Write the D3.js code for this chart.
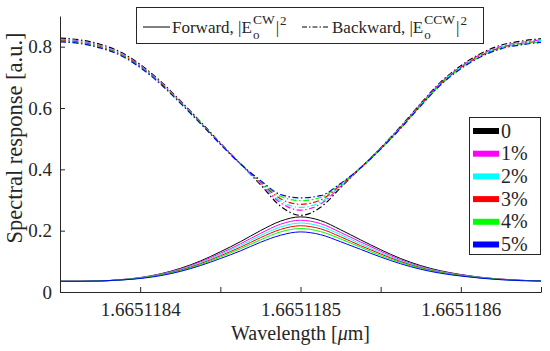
<!DOCTYPE html>
<html>
<head>
<meta charset="utf-8">
<script src="https://cdn.jsdelivr.net/npm/d3@7"></script>
<style>
  body { margin: 0; background: #fff; }
  text { font-family: "Liberation Serif", serif; fill: #262626; }
</style>
</head>
<body>
<div id="chart"></div>
<script>
// Wavelength samples [um]
var wavelength = [1.66511835, 1.6651183625, 1.665118375, 1.6651183875, 1.6651184,
  1.6651184125, 1.665118425, 1.6651184375, 1.66511845, 1.6651184625, 1.665118475,
  1.6651184875, 1.6651185, 1.6651185125, 1.665118525, 1.6651185375, 1.66511855,
  1.6651185625, 1.665118575, 1.6651185875, 1.6651186, 1.6651186125, 1.665118625,
  1.6651186375, 1.66511865];

// Forward |Eo_CW|^2, one array per perturbation
var fwd0 = [0.035,0.035,0.036,0.040,0.047,0.059,0.077,0.101,0.131,0.164,0.200,0.231,0.245,0.233,0.203,0.170,0.138,0.109,0.086,0.069,0.057,0.048,0.042,0.038,0.036];
var fwd1 = [0.035,0.035,0.036,0.040,0.046,0.058,0.075,0.098,0.126,0.157,0.191,0.221,0.234,0.223,0.194,0.163,0.133,0.105,0.083,0.067,0.056,0.047,0.042,0.038,0.036];
var fwd2 = [0.035,0.035,0.036,0.040,0.046,0.057,0.073,0.095,0.122,0.152,0.184,0.212,0.225,0.214,0.187,0.157,0.128,0.102,0.081,0.066,0.055,0.047,0.041,0.038,0.036];
var fwd3 = [0.035,0.035,0.036,0.039,0.045,0.056,0.071,0.092,0.118,0.146,0.177,0.204,0.216,0.206,0.180,0.151,0.124,0.099,0.079,0.064,0.054,0.046,0.041,0.038,0.036];
var fwd4 = [0.035,0.035,0.036,0.039,0.045,0.055,0.069,0.089,0.114,0.141,0.170,0.196,0.207,0.197,0.173,0.146,0.119,0.096,0.077,0.063,0.053,0.046,0.041,0.037,0.036];
var fwd5 = [0.035,0.035,0.036,0.039,0.044,0.053,0.067,0.086,0.109,0.134,0.162,0.185,0.196,0.187,0.164,0.139,0.114,0.092,0.074,0.061,0.052,0.045,0.040,0.037,0.036];

// Backward |Eo_CCW|^2
var bwd0 = [0.828,0.822,0.808,0.783,0.742,0.688,0.624,0.556,0.486,0.418,0.350,0.280,0.250,0.276,0.340,0.405,0.470,0.540,0.615,0.685,0.738,0.778,0.805,0.818,0.826];
var bwd1 = [0.824,0.818,0.804,0.780,0.739,0.685,0.622,0.554,0.485,0.418,0.354,0.291,0.267,0.287,0.344,0.405,0.469,0.538,0.613,0.682,0.735,0.775,0.801,0.814,0.822];
var bwd2 = [0.822,0.816,0.802,0.778,0.737,0.684,0.620,0.553,0.484,0.418,0.356,0.297,0.276,0.293,0.346,0.405,0.468,0.537,0.611,0.681,0.733,0.773,0.799,0.812,0.820];
var bwd3 = [0.820,0.814,0.800,0.776,0.736,0.682,0.619,0.552,0.483,0.418,0.359,0.304,0.286,0.300,0.349,0.405,0.467,0.536,0.610,0.679,0.732,0.771,0.797,0.810,0.818];
var bwd4 = [0.818,0.812,0.798,0.774,0.734,0.680,0.617,0.551,0.483,0.418,0.362,0.312,0.298,0.308,0.352,0.405,0.467,0.535,0.608,0.677,0.730,0.769,0.795,0.808,0.816];
var bwd5 = [0.816,0.810,0.796,0.772,0.732,0.679,0.616,0.550,0.482,0.418,0.364,0.318,0.307,0.314,0.354,0.405,0.466,0.534,0.607,0.676,0.728,0.767,0.793,0.806,0.814];

var seriesLabels = ["0", "1%", "2%", "3%", "4%", "5%"];
var seriesColors = ["#000000", "#ff00ff", "#00ffff", "#ff0000", "#00ff00", "#0000ff"];

// Axis ticks
var xTickValues = [1.6651184, 1.66511845, 1.6651185, 1.66511855, 1.6651186, 1.66511865];
var xTickLabels = ["1.6651184", "", "1.6651185", "", "1.6651186", ""];
var yTickValues = [0, 0.2, 0.4, 0.6, 0.8];
var yTickLabels = ["0", "0.2", "0.4", "0.6", "0.8"];

var forward = [fwd0, fwd1, fwd2, fwd3, fwd4, fwd5];
var backward = [bwd0, bwd1, bwd2, bwd3, bwd4, bwd5];

var svgWidth = 550;
var svgHeight = 351;
var margin = { top: 16, right: 9, bottom: 59, left: 60 };
var chartWidth = svgWidth - margin.left - margin.right;
var chartHeight = svgHeight - margin.top - margin.bottom;

var svg = d3.select("#chart")
  .append("svg")
  .attr("width", svgWidth)
  .attr("height", svgHeight);

var chartGroup = svg.append("g")
  .attr("transform", `translate(${margin.left}, ${margin.top})`);

var xScale = d3.scaleLinear()
  .domain([wavelength[0], wavelength[wavelength.length - 1]])
  .range([0, chartWidth]);

var yScale = d3.scaleLinear()
  .domain([0, 0.9])
  .range([chartHeight, 0]);

var drawLine = d3.line()
  .x((d, i) => xScale(wavelength[i]))
  .y(d => yScale(d))
  .curve(d3.curveMonotoneX);

// forward (solid)
forward.forEach(function(series, k) {
  chartGroup.append("path")
    .attr("d", drawLine(series))
    .attr("fill", "none")
    .attr("stroke", seriesColors[k])
    .attr("stroke-width", 1);
});

// backward (dash-dot)
backward.forEach(function(series, k) {
  chartGroup.append("path")
    .attr("d", drawLine(series))
    .attr("fill", "none")
    .attr("stroke", seriesColors[k])
    .attr("stroke-width", 1.2)
    .attr("stroke-dasharray", "6,2.5,1.5,2.5");
});

// axes, ticks inside like matlab
var bottomAxis = d3.axisBottom(xScale)
  .tickValues(xTickValues)
  .tickFormat((d, i) => xTickLabels[i])
  .tickSizeInner(-5)
  .tickSizeOuter(0)
  .tickPadding(11);

var leftAxis = d3.axisLeft(yScale)
  .tickValues(yTickValues)
  .tickFormat((d, i) => yTickLabels[i])
  .tickSizeInner(-5)
  .tickSizeOuter(0)
  .tickPadding(8);

var xAxisG = chartGroup.append("g")
  .attr("transform", `translate(0, ${chartHeight})`)
  .call(bottomAxis);

var yAxisG = chartGroup.append("g")
  .call(leftAxis);

[xAxisG, yAxisG].forEach(function(g) {
  g.select(".domain").attr("stroke", "#262626");
  g.selectAll(".tick line").attr("stroke", "#262626");
  g.selectAll(".tick text")
    .attr("font-family", "Liberation Serif")
    .attr("font-size", 19)
    .attr("fill", "#262626");
});

// axis labels
var xLabel = svg.append("text")
  .attr("x", margin.left + xScale(1.6651185))
  .attr("y", 340)
  .attr("text-anchor", "middle")
  .attr("font-size", 20);
xLabel.append("tspan").text("Wavelength [");
xLabel.append("tspan").attr("font-style", "italic").text("\u03bc");
xLabel.append("tspan").text("m]");

svg.append("text")
  .attr("transform", "translate(22, 138) rotate(-90)")
  .attr("text-anchor", "middle")
  .attr("font-size", 22.5)
  .text("Spectral response [a.u.]");

// top legend (line styles)
var legTop = svg.append("g");
legTop.append("rect")
  .attr("x", 136.5).attr("y", 7.5)
  .attr("width", 347).attr("height", 36)
  .attr("fill", "#fff")
  .attr("stroke", "#262626");
legTop.append("line")
  .attr("x1", 143).attr("x2", 170).attr("y1", 27).attr("y2", 27)
  .attr("stroke", "#000").attr("stroke-width", 1);
legTop.append("line")
  .attr("x1", 302).attr("x2", 329).attr("y1", 27).attr("y2", 27)
  .attr("stroke", "#000").attr("stroke-width", 1)
  .attr("stroke-dasharray", "5,2,1.5,2");

function fieldLabel(x, name, sup) {
  var t = legTop.append("text")
    .attr("x", x).attr("y", 33)
    .attr("font-size", 17);
  t.append("tspan").text(name + ", |E");
  t.append("tspan").attr("font-size", 13).attr("dx", 1).attr("dy", 6).text("o");
  t.append("tspan").attr("font-size", 13.5).attr("dx", -6.5).attr("dy", -15).text(sup);
  t.append("tspan").attr("dx", 1).attr("dy", 9).text("|");
  t.append("tspan").attr("font-size", 13).attr("dx", 1).attr("dy", -8).text("2");
}
fieldLabel(172, "Forward", "CW");
fieldLabel(332, "Backward", "CCW");

// right legend (perturbation colours)
var legRight = svg.append("g");
legRight.append("rect")
  .attr("x", 469.5).attr("y", 117.5)
  .attr("width", 71).attr("height", 137)
  .attr("fill", "#fff")
  .attr("stroke", "#262626");

seriesLabels.forEach(function(lbl, k) {
  var yy = 131 + k * 22.7;
  legRight.append("line")
    .attr("x1", 473).attr("x2", 499)
    .attr("y1", yy).attr("y2", yy)
    .attr("stroke", seriesColors[k])
    .attr("stroke-width", 6);
  legRight.append("text")
    .attr("x", 501).attr("y", yy + 6.5)
    .attr("font-size", 20)
    .text(lbl);
});
</script>
</body>
</html>
